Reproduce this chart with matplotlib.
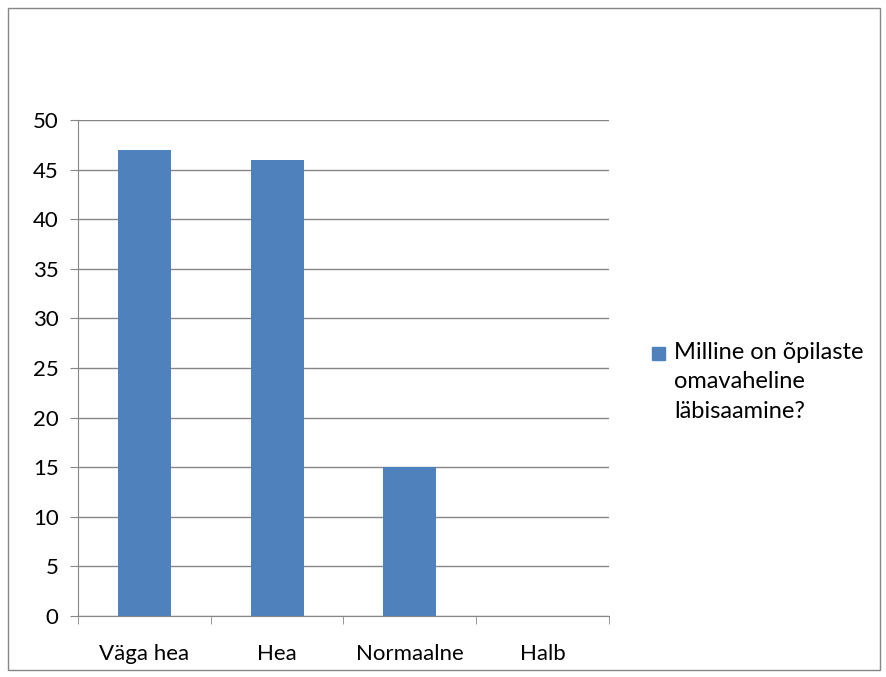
import matplotlib.pyplot as plt
from matplotlib.patches import Rectangle

categories = ['Väga hea', 'Hea', 'Normaalne', 'Halb']
values = [47, 46, 15, 0]
series_name = 'Milline on õpilaste\nomavaheline\nläbisaamine?'
yticks = [0, 5, 10, 15, 20, 25, 30, 35, 40, 45, 50]

plt.rcParams['font.family'] = ['Lato', 'DejaVu Sans']

fig = plt.figure(figsize=(8.87, 6.77), dpi=100)
ax = fig.add_axes([0.0879, 0.0901, 0.5987, 0.7326])

#tulbad
x = range(len(categories))
ax.bar(x, values, width=0.4, color='#4F81BD', zorder=3)

ax.set_xlim(-0.5, len(categories) - 0.5)
ax.set_ylim(0, 50)
ax.set_yticks(yticks)
ax.yaxis.grid(True, color='#868686', linewidth=1, zorder=0)
ax.tick_params(axis='y', length=6, color='#868686', labelsize=16, pad=8)

ax.set_xticks(list(x))
ax.set_xticklabels(categories)
ax.set_xticks([i - 0.5 for i in range(len(categories) + 1)], minor=True)
ax.tick_params(axis='x', which='major', length=0, labelsize=16, pad=20)
ax.tick_params(axis='x', which='minor', length=6, color='#868686')

for s in ['top', 'right']:
    ax.spines[s].set_visible(False)
for s in ['left', 'bottom']:
    ax.spines[s].set_color('#868686')

#legend
fig.patches.append(Rectangle((652 / 887, 1 - 360 / 677), 13 / 887, 13 / 677,
                             transform=fig.transFigure, color='#4F81BD'))
fig.text(674 / 887, 1 - 342 / 677, series_name, fontsize=17, va='top',
         linespacing=1.5)

#raam
fig.patches.append(Rectangle((8 / 887, 7 / 677), 872 / 887, 662 / 677,
                             transform=fig.transFigure, fill=False,
                             edgecolor='#868686', linewidth=1))

fig.savefig('out.png', dpi=100)
